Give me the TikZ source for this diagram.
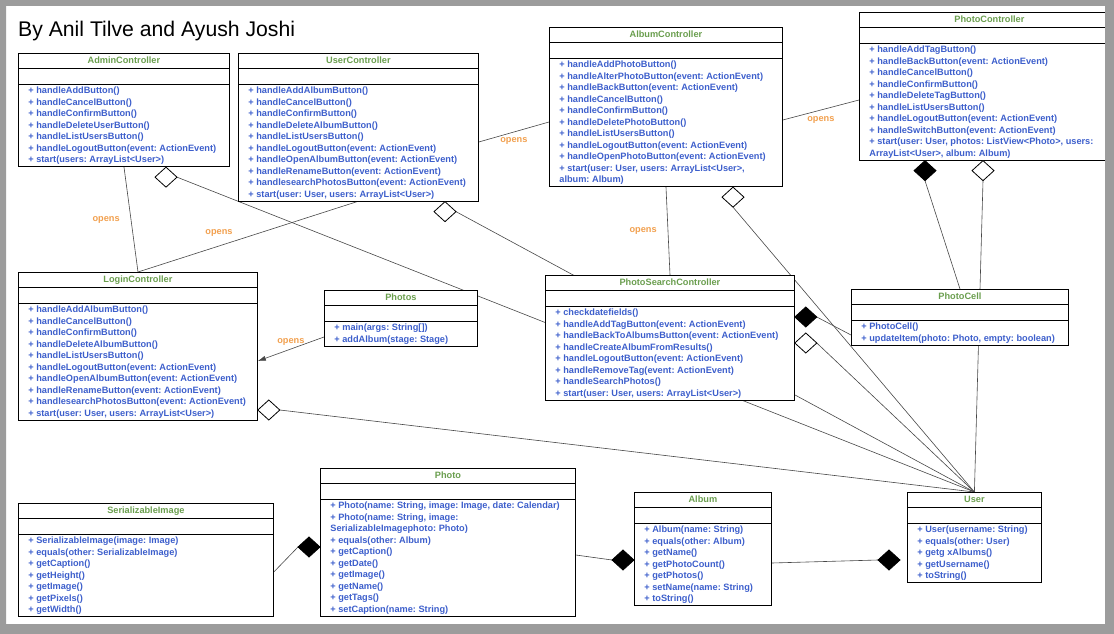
\documentclass[tikz,border=0pt]{standalone}
\usepackage{fontspec}
\setmainfont{Liberation Sans}
\usetikzlibrary{shapes.multipart,shapes.geometric,arrows.meta}

\definecolor{methblue}{HTML}{3D5FCC}
\definecolor{titlegreen}{HTML}{6A9E4E}
\definecolor{opensorange}{HTML}{F2A04E}
\definecolor{linegray}{HTML}{474747}
\definecolor{framegray}{HTML}{9C9C9C}

\pgfdeclarelayer{background}
\pgfdeclarelayer{foreground}
\pgfsetlayers{background,main,foreground}

\begin{document}
\frenchspacing
\begin{tikzpicture}[
    x=1pt, y=-1pt,
    umlclass/.style={
        rectangle split,
        rectangle split parts=3,
        rectangle split part align={center,left,left},
        draw=black,
        line width=0.8pt,
        fill=white,
        anchor=north west,
        inner xsep=10pt,
        inner ysep=1.5pt,
        align=left,
        text=methblue,
        font=\fontsize{9.2}{11.5}\selectfont\bfseries\frenchspacing
    },
    agg/.style={
        diamond,
        draw=black,
        line width=0.8pt,
        fill=white,
        inner sep=0pt,
        outer sep=0pt,
        minimum width=22pt,
        minimum height=20pt
    },
    comp/.style={agg, fill=black},
    assoc/.style={draw=linegray, line width=0.6pt},
    openslabel/.style={
        text=opensorange,
        inner sep=1pt,
        font=\fontsize{9.2}{11}\selectfont\bfseries
    }
]

\useasboundingbox (0,0) rectangle (1114,634);
\begin{pgfonlayer}{background}
\fill[white] (0,0) rectangle (1114,634);
\end{pgfonlayer}

\node[anchor=base west, inner sep=0pt, font=\fontsize{21.2}{25}\selectfont] (heading) at (18,37) {By Anil Tilve and Ayush Joshi};

% controllers
\node[umlclass, minimum width=211pt, minimum height=118pt] (admin) at (18,53)
    {\strut\textcolor{titlegreen}{AdminController}
     \nodepart{two}\strut
     \nodepart{three}\strut + handleAddButton()\\
     + handleCancelButton()\\
     + handleConfirmButton()\\
     + handleDeleteUserButton()\\
     + handleListUsersButton()\\
     + handleLogoutButton(event: ActionEvent)\\
     + start(users: ArrayList<User>)};

\node[umlclass, minimum width=240pt, minimum height=149pt] (userc) at (238,53)
    {\strut\textcolor{titlegreen}{UserController}
     \nodepart{two}\strut
     \nodepart{three}\strut + handleAddAlbumButton()\\
     + handleCancelButton()\\
     + handleConfirmButton()\\
     + handleDeleteAlbumButton()\\
     + handleListUsersButton()\\
     + handleLogoutButton(event: ActionEvent)\\
     + handleOpenAlbumButton(event: ActionEvent)\\
     + handleRenameButton(event: ActionEvent)\\
     + handlesearchPhotosButton(event: ActionEvent)\\
     + start(user: User, users: ArrayList<User>)};

\node[umlclass, minimum width=233pt, minimum height=158pt] (albumc) at (549,27)
    {\strut\textcolor{titlegreen}{AlbumController}
     \nodepart{two}\strut
     \nodepart{three}\strut + handleAddPhotoButton()\\
     + handleAlterPhotoButton(event: ActionEvent)\\
     + handleBackButton(event: ActionEvent)\\
     + handleCancelButton()\\
     + handleConfirmButton()\\
     + handleDeletePhotoButton()\\
     + handleListUsersButton()\\
     + handleLogoutButton(event: ActionEvent)\\
     + handleOpenPhotoButton(event: ActionEvent)\\
     + start(user: User, users: ArrayList<User>,\\
     album: Album)};

\node[umlclass, minimum width=260pt, minimum height=150pt] (photoc) at (859,12)
    {\strut\textcolor{titlegreen}{PhotoController}
     \nodepart{two}\strut
     \nodepart{three}\strut + handleAddTagButton()\\
     + handleBackButton(event: ActionEvent)\\
     + handleCancelButton()\\
     + handleConfirmButton()\\
     + handleDeleteTagButton()\\
     + handleListUsersButton()\\
     + handleLogoutButton(event: ActionEvent)\\
     + handleSwitchButton(event: ActionEvent)\\
     + start(user: User, photos: ListView<Photo>, users:\\
     ArrayList<User>, album: Album)};

\node[umlclass, minimum width=239pt, minimum height=149pt] (login) at (18,272)
    {\strut\textcolor{titlegreen}{LoginController}
     \nodepart{two}\strut
     \nodepart{three}\strut + handleAddAlbumButton()\\
     + handleCancelButton()\\
     + handleConfirmButton()\\
     + handleDeleteAlbumButton()\\
     + handleListUsersButton()\\
     + handleLogoutButton(event: ActionEvent)\\
     + handleOpenAlbumButton(event: ActionEvent)\\
     + handleRenameButton(event: ActionEvent)\\
     + handlesearchPhotosButton(event: ActionEvent)\\
     + start(user: User, users: ArrayList<User>)};

\node[umlclass, minimum width=153pt, minimum height=63pt] (photos) at (324,290)
    {\strut\textcolor{titlegreen}{Photos}
     \nodepart{two}\strut
     \nodepart{three}\strut + main(args: String[])\\
     + addAlbum(stage: Stage)};

\node[umlclass, minimum width=249pt, minimum height=127pt] (psc) at (545,275)
    {\strut\textcolor{titlegreen}{PhotoSearchController}
     \nodepart{two}\strut
     \nodepart{three}\strut + checkdatefields()\\
     + handleAddTagButton(event: ActionEvent)\\
     + handleBackToAlbumsButton(event: ActionEvent)\\
     + handleCreateAlbumFromResults()\\
     + handleLogoutButton(event: ActionEvent)\\
     + handleRemoveTag(event: ActionEvent)\\
     + handleSearchPhotos()\\
     + start(user: User, users: ArrayList<User>)};

\node[umlclass, minimum width=217pt, minimum height=63pt] (photocell) at (851,289)
    {\strut\textcolor{titlegreen}{PhotoCell}
     \nodepart{two}\strut
     \nodepart{three}\strut + PhotoCell()\\
     + updateItem(photo: Photo, empty: boolean)};

% model
\node[umlclass, minimum width=255pt, minimum height=110pt] (serimg) at (18,503)
    {\strut\textcolor{titlegreen}{SerializableImage}
     \nodepart{two}\strut
     \nodepart{three}\strut + SerializableImage(image: Image)\\
     + equals(other: SerializableImage)\\
     + getCaption()\\
     + getHeight()\\
     + getImage()\\
     + getPixels()\\
     + getWidth()};

\node[umlclass, minimum width=255pt, minimum height=145pt] (photo) at (320,468)
    {\strut\textcolor{titlegreen}{Photo}
     \nodepart{two}\strut
     \nodepart{three}\strut + Photo(name: String, image: Image, date: Calendar)\\
     + Photo(name: String, image:\\
     SerializableImagephoto: Photo)\\
     + equals(other: Album)\\
     + getCaption()\\
     + getDate()\\
     + getImage()\\
     + getName()\\
     + getTags()\\
     + setCaption(name: String)};

\node[umlclass, minimum width=137pt, minimum height=112pt] (album) at (634,492)
    {\strut\textcolor{titlegreen}{Album}
     \nodepart{two}\strut
     \nodepart{three}\strut + Album(name: String)\\
     + equals(other: Album)\\
     + getName()\\
     + getPhotoCount()\\
     + getPhotos()\\
     + setName(name: String)\\
     + toString()};

\node[umlclass, minimum width=134pt, minimum height=92pt] (user) at (907,492)
    {\strut\textcolor{titlegreen}{User}
     \nodepart{two}\strut
     \nodepart{three}\strut + User(username: String)\\
     + equals(other: User)\\
     + getg xAlbums()\\
     + getUsername()\\
     + toString()};

% diamonds
\node[agg, anchor=north] (aggAdmin) at ([xshift=148pt]admin.south west) {};
\node[agg, anchor=north] (aggUserc) at ([xshift=207pt]userc.south west) {};
\node[agg, anchor=north] (aggAlbumc) at ([xshift=184pt]albumc.south west) {};
\node[comp, anchor=north] (compPhotoc) at ([xshift=66pt]photoc.south west) {};
\node[agg, anchor=north] (aggPhotoc) at ([xshift=124pt]photoc.south west) {};
\node[agg, anchor=west] (aggLogin) at ([yshift=-138pt]login.north east) {};
\node[comp, anchor=west] (compPsc) at ([yshift=-42pt]psc.north east) {};
\node[agg, anchor=west] (aggPsc) at ([yshift=-68pt]psc.north east) {};
\node[comp, anchor=east] (compPhoto) at ([yshift=-79pt]photo.north west) {};
\node[comp, anchor=east] (compAlbum) at ([yshift=-68pt]album.north west) {};
\node[comp, anchor=east] (compUser) at ([xshift=-7pt,yshift=-68pt]user.north west) {};

\begin{pgfonlayer}{background}
% opens
\draw[assoc] ([xshift=106pt]admin.south west) -- node[openslabel, midway, left=10pt] {opens} ([xshift=120pt]login.north west);
\draw[assoc] ([xshift=119pt]userc.south west) -- node[openslabel, pos=0.63, above=8pt] {opens} ([xshift=120pt]login.north west);
\draw[assoc] ([yshift=-89pt]userc.north east) -- node[openslabel, midway, below=4pt] {opens} ([yshift=-95pt]albumc.north west);
\draw[assoc] ([yshift=-93pt]albumc.north east) -- node[openslabel, midway, below=5pt] {opens} ([yshift=-88pt]photoc.north west);
\draw[assoc] ([xshift=117pt]albumc.south west) -- node[openslabel, midway, left=10pt] {opens} ([xshift=125pt]psc.north west);
\draw[assoc, -{Latex[length=8pt,width=5pt]}] ([yshift=-47pt]photos.north west) -- node[openslabel, midway, above=2pt] {opens} ([yshift=-89pt]login.north east);

% to user
\draw[assoc] (aggAdmin.east) -- (user.north);
\draw[assoc] (aggUserc.east) -- (user.north);
\draw[assoc] (aggAlbumc.south) -- (user.north);
\draw[assoc] (aggPhotoc.south) -- (user.north);
\draw[assoc] (aggLogin.east) -- (user.north);
\draw[assoc] (aggPsc.east) -- (user.north);

% photo cell
\draw[assoc] (compPhotoc.south) -- ([xshift=109pt]photocell.north west);
\draw[assoc] (compPsc.east) -- ([yshift=-46pt]photocell.north west);

% model
\draw[assoc] (compPhoto.west) -- ([yshift=-69pt]serimg.north east);
\draw[assoc] (compAlbum.west) -- ([yshift=-87pt]photo.north east);
\draw[assoc] (compUser.west) -- ([yshift=-71pt]album.north east);
\end{pgfonlayer}

\begin{pgfonlayer}{foreground}
\fill[framegray, even odd rule] (0,0) rectangle (1114,634) (6,6) rectangle (1105,624);
\end{pgfonlayer}

\end{tikzpicture}
\end{document}
